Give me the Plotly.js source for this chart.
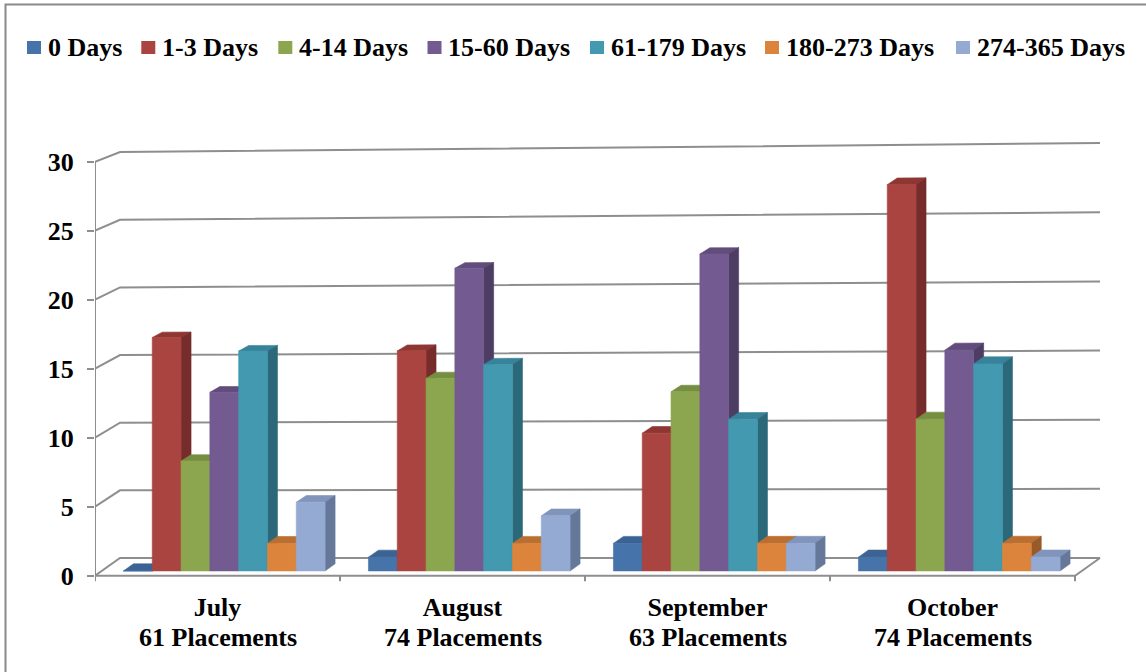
<!DOCTYPE html>
<html><head><meta charset="utf-8">
<script src="https://cdn.plot.ly/plotly-3.0.1.min.js"></script>
<style>html,body{margin:0;padding:0;background:#fff;}#chart{width:1146px;height:672px;}</style>
</head><body><div id="chart"></div>
<script>
// ---------- data ----------
const months = ['July', 'August', 'September', 'October'];
const seriesNames = ['0 Days', '1-3 Days', '4-14 Days', '15-60 Days', '61-179 Days', '180-273 Days', '274-365 Days'];
const days0 = [0, 1, 2, 1];
const days1to3 = [17, 16, 10, 28];
const days4to14 = [8, 14, 13, 11];
const days15to60 = [13, 22, 23, 16];
const days61to179 = [16, 15, 11, 15];
const days180to273 = [2, 2, 2, 2];
const days274to365 = [5, 4, 2, 1];
const yTicks = [0, 5, 10, 15, 20, 25, 30];

const seriesValues = [days0, days1to3, days4to14, days15to60, days61to179, days180to273, days274to365];
const placements = months.map((m, g) => seriesValues.reduce((a, s) => a + s[g], 0));

// ---------- styles ----------
const faceColors = [
  {front: '#4573AA', top: '#3B6394', side: '#2E4E75'},
  {front: '#AA4440', top: '#8F3633', side: '#762C2A'},
  {front: '#8BA64E', top: '#768E41', side: '#5E7233'},
  {front: '#735A91', top: '#614C7C', side: '#4D3D63'},
  {front: '#4299B0', top: '#38839A', side: '#2B697A'},
  {front: '#DC843C', top: '#BA6F31', side: '#975A28'},
  {front: '#95AAD3', top: '#8195BC', side: '#65789A'}
];
const gridColor = '#8e8e8e';
const fontFam = '"Liberation Serif", "Times New Roman", serif';
const fontSize = 26;

// ---------- geometry ----------
const W = 1146, H = 672;
const L = 95, R = 45, T = 127, B = 83;
const pxPerCat = 245, pxPerVal = 13.8, zeroPx = 575.7;
const plotW = W - L - R, plotH = H - T - B;
const xRange = [-0.5, -0.5 + plotW / pxPerCat];
const yRange = [(zeroPx - (H - B)) / pxPerVal, (zeroPx - T) / pxPerVal];
const nCat = months.length;
const depthDX = 25 / pxPerCat, depthDY = 17.7 / pxPerVal;
const D0 = 0.27, D1 = 0.67;
const groupFrac = 0.823;
const barW = groupFrac / seriesNames.length;
const tickDown = 5.5 / pxPerVal;

function proj(xc, v, d) {
  const xf = (xc + 0.5) / nCat;
  const s = 1 + d * (-0.27 + 0.30 * xf) / pxPerVal;
  return [xc + depthDX * d, depthDY * d + v * s];
}
function poly(pts, xs, ys) {
  pts.forEach(p => { xs.push(p[0]); ys.push(p[1]); });
  xs.push(pts[0][0]); ys.push(pts[0][1]);
  xs.push(null); ys.push(null);
}

const traces = [];
// gridlines on walls
{
  const xs = [], ys = [];
  yTicks.forEach(t => {
    [proj(-0.5, t, 0), proj(-0.5, t, 1), proj(nCat - 0.5, t, 1)].forEach(p => { xs.push(p[0]); ys.push(p[1]); });
    xs.push(null); ys.push(null);
  });
  // floor front edge + right edge
  [proj(-0.5, 0, 0), proj(nCat - 0.5, 0, 0), proj(nCat - 0.5, 0, 1)].forEach(p => { xs.push(p[0]); ys.push(p[1]); });
  xs.push(null); ys.push(null);
  // vertical axis line
  [proj(-0.5, -tickDown, 0), proj(-0.5, yTicks[yTicks.length - 1], 0)].forEach(p => { xs.push(p[0]); ys.push(p[1]); });
  xs.push(null); ys.push(null);
  // category boundary ticks
  for (let k = 1; k <= nCat; k++) {
    [proj(k - 0.5, 0, 0), proj(k - 0.5, -tickDown, 0)].forEach(p => { xs.push(p[0]); ys.push(p[1]); });
    xs.push(null); ys.push(null);
  }
  traces.push({type: 'scatter', mode: 'lines', x: xs, y: ys, line: {color: gridColor, width: 2},
    hoverinfo: 'skip', showlegend: false, cliponaxis: false});
}

// 3D bars, left to right within each group
seriesValues.forEach((vals, s) => {
  const top = {x: [], y: []}, side = {x: [], y: []}, front = {x: [], y: []};
  vals.forEach((v, g) => {
    const xl = g - 0.5 + (1 - groupFrac) / 2 + s * barW;
    const xr = xl + barW;
    poly([proj(xl, v, D0), proj(xr, v, D0), proj(xr, v, D1), proj(xl, v, D1)], top.x, top.y);
    poly([proj(xr, 0, D0), proj(xr, 0, D1), proj(xr, v, D1), proj(xr, v, D0)], side.x, side.y);
    poly([proj(xl, 0, D0), proj(xr, 0, D0), proj(xr, v, D0), proj(xl, v, D0)], front.x, front.y);
  });
  [['top', top], ['side', side], ['front', front]].forEach(([k, d]) => {
    traces.push({type: 'scatter', mode: 'lines', x: d.x, y: d.y, fill: 'toself',
      fillcolor: faceColors[s][k], line: {color: faceColors[s][k], width: 0.6},
      name: seriesNames[s], hoverinfo: 'skip', showlegend: false, cliponaxis: false});
  });
});

// ---------- legend (manual, matching reference) ----------
const legendSquareX = [27, 141.3, 278.3, 427.5, 590, 765, 956];
const legendY = 47.5;
const toPX = px => (px - L) / plotW;
const toPY = py => (H - B - py) / plotH;
const shapes = [];
const annotations = [];
seriesNames.forEach((n, s) => {
  const x0 = legendSquareX[s];
  shapes.push({type: 'rect', xref: 'paper', yref: 'paper', x0: toPX(x0), x1: toPX(x0 + 14),
    y0: toPY(legendY - 6.5), y1: toPY(legendY + 6.5), fillcolor: faceColors[s].front, line: {width: 0}});
  annotations.push({xref: 'paper', yref: 'paper', x: toPX(x0 + 18.5), y: toPY(legendY),
    xanchor: 'left', yanchor: 'middle', showarrow: false, text: n,
    font: {family: fontFam, size: fontSize, color: '#000', weight: 'bold'}});
});
// placements line under month labels
months.forEach((m, g) => {
  annotations.push({xref: 'x', yref: 'paper', x: g, y: toPY(637), xanchor: 'center', yanchor: 'middle',
    showarrow: false, text: placements[g] + ' Placements',
    font: {family: fontFam, size: fontSize, color: '#000', weight: 'bold'}});
});
// outer border
shapes.push({type: 'rect', xref: 'paper', yref: 'paper', x0: toPX(5.5), y0: toPY(H + 20), x1: toPX(W + 20), y1: toPY(4.5),
  line: {color: '#8a8a8a', width: 2}, fillcolor: 'rgba(0,0,0,0)', layer: 'below'});

const layout = {
  width: W, height: H, autosize: false,
  margin: {l: L, r: R, t: T, b: B, pad: 0},
  paper_bgcolor: '#ffffff', plot_bgcolor: 'rgba(0,0,0,0)',
  showlegend: false,
  xaxis: {range: xRange, showgrid: false, zeroline: false, showline: false, ticks: '',
    tickmode: 'array', tickvals: months.map((m, g) => g), ticktext: months,
    tickfont: {family: fontFam, size: fontSize, color: '#000', weight: 'bold'}, ticklabelstandoff: 0, fixedrange: true},
  yaxis: {range: yRange, showgrid: false, zeroline: false, showline: false,
    tickmode: 'array', tickvals: yTicks, ticks: 'outside', ticklen: 7, tickwidth: 2, tickcolor: gridColor,
    tickfont: {family: fontFam, size: fontSize, color: '#000', weight: 'bold'}, ticklabelstandoff: 8, fixedrange: true},
  shapes: shapes,
  annotations: annotations
};
Plotly.newPlot('chart', traces, layout, {displayModeBar: false, staticPlot: true});
</script>
</body></html>
